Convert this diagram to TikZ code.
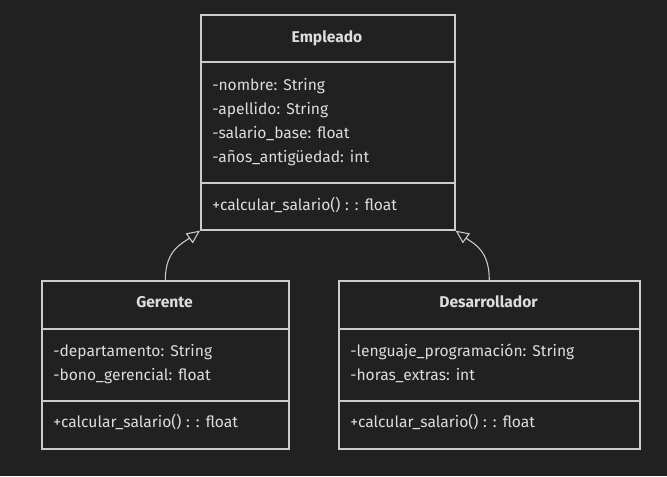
\documentclass[tikz,border=0pt]{standalone}
\usepackage{fontspec}
\setmainfont{Fira Sans}
\usetikzlibrary{arrows.meta}
\definecolor{bg}{HTML}{212121}
\definecolor{ln}{HTML}{CCCCCC}
\definecolor{tx}{HTML}{DDDDDD}
\newcommand\memberfont{\fontsize{11.7}{13}\selectfont}
\newcommand\widespaces{\spaceskip=0.3em plus 0.1em\relax}
\begin{document}
\begin{tikzpicture}[x=0.75pt,y=-0.75pt,
  comp/.style={draw=ln,line width=1.2pt,fill=bg,inner sep=0pt,anchor=north west},
  title/.style={text=tx,font=\memberfont\bfseries,inner sep=0pt,text height=8.5pt,text depth=1.5pt},
  member/.style={text=tx,font=\memberfont,inner sep=0pt,anchor=west,text height=8.5pt,text depth=1.5pt,execute at begin node=\widespaces},
  inherit/.style={draw=ln,line width=0.8pt,-{Triangle[open,length=10pt,width=9pt,fill=bg]}}]
\fill[bg] (0,0) rectangle (667,476);
\useasboundingbox (0,0) rectangle (667,476);
% Empleado
\node[comp,minimum width=254*0.75pt,minimum height=47*0.75pt] (empH) at (200,14) {};
\node[comp,minimum width=254*0.75pt,minimum height=121*0.75pt] (empA) at (200,61) {};
\node[comp,minimum width=254*0.75pt,minimum height=47*0.75pt] (empM) at (200,182) {};
\node[title] (empT) at (327,38) {Empleado};
\node[member] (empA1) at (212,86) {-nombre: String};
\node[member] (empA2) at (212,110) {-apellido: String};
\node[member] (empA3) at (212,134) {-salario\_base: float};
\node[member] (empA4) at (212,158) {-años\_antigüedad: int};
\node[member] (empM1) at (212,206) {+calcular\_salario() : : float};
% Gerente
\node[comp,minimum width=247*0.75pt,minimum height=48*0.75pt] (gerH) at (41,280) {};
\node[comp,minimum width=247*0.75pt,minimum height=72*0.75pt] (gerA) at (41,328) {};
\node[comp,minimum width=247*0.75pt,minimum height=48*0.75pt] (gerM) at (41,400) {};
\node[title] (gerT) at (164.5,303) {Gerente};
\node[member] (gerA1) at (53,352) {-departamento: String};
\node[member] (gerA2) at (53,376) {-bono\_gerencial: float};
\node[member] (gerM1) at (53,423) {+calcular\_salario() : : float};
% Desarrollador
\node[comp,minimum width=301*0.75pt,minimum height=48*0.75pt] (desH) at (338,280) {};
\node[comp,minimum width=301*0.75pt,minimum height=72*0.75pt] (desA) at (338,328) {};
\node[comp,minimum width=301*0.75pt,minimum height=48*0.75pt] (desM) at (338,400) {};
\node[title] (desT) at (488.5,303) {Desarrollador};
\node[member] (desA1) at (350,352) {-lenguaje\_programación: String};
\node[member] (desA2) at (350,376) {-horas\_extras: int};
\node[member] (desM1) at (350,423) {+calcular\_salario() : : float};
% inheritance
\draw[inherit] (gerH.north) .. controls ([yshift=30*0.75pt]gerH.north) and ([xshift=-18*0.75pt,yshift=-13*0.75pt]empM.south west) .. (empM.south west);
\draw[inherit] (desH.north) .. controls ([yshift=30*0.75pt]desH.north) and ([xshift=18*0.75pt,yshift=-13*0.75pt]empM.south east) .. (empM.south east);
\end{tikzpicture}
\end{document}
